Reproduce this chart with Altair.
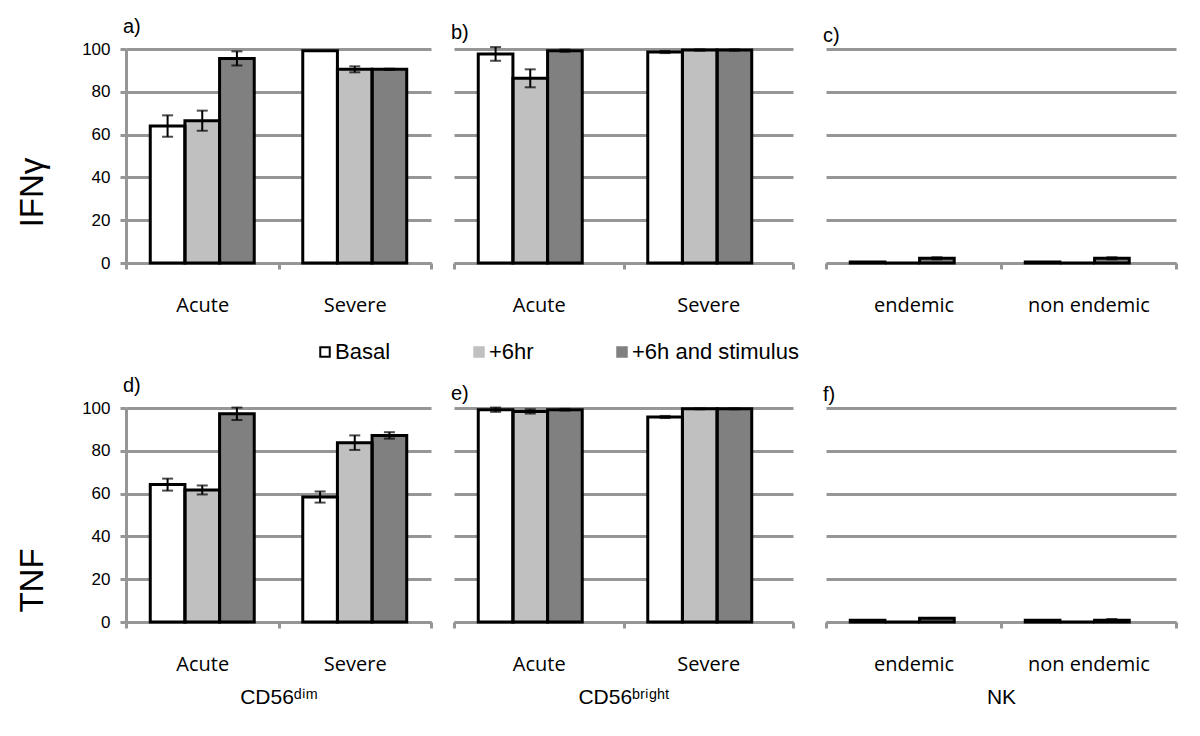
import altair as alt
import pandas as pd

series = ["Basal", "+6hr", "+6h and stimulus"]
fills = ["#ffffff", "#c0c0c0", "#808080"]
legend_strokes = ["#000000", "#c0c0c0", "#808080"]

cats_cd56 = ["Acute", "Severe"]
cats_nk = ["endemic", "non endemic"]

# values[group][series], errors[group][series]
a_vals = [[64.0, 66.5, 95.6], [99.2, 90.5, 90.5]]
a_err = [[5.0, 4.7, 3.3], [0.0, 1.4, 0.3]]
b_vals = [[97.7, 86.3, 99.2], [98.6, 99.5, 99.5]]
b_err = [[3.2, 4.2, 0.5], [0.5, 0.3, 0.3]]
c_vals = [[0.5, 0.0, 2.2], [0.5, 0.0, 2.2]]
c_err = [[0.0, 0.0, 0.5], [0.0, 0.0, 0.5]]
d_vals = [[64.2, 61.7, 97.3], [58.4, 83.8, 87.2]]
d_err = [[2.8, 2.1, 2.9], [2.6, 3.4, 1.5]]
e_vals = [[99.2, 98.4, 99.2], [95.8, 99.6, 99.6]]
e_err = [[1.0, 1.0, 0.4], [0.5, 0.2, 0.2]]
f_vals = [[0.8, 0.0, 1.8], [0.8, 0.0, 0.8]]
f_err = [[0.0, 0.0, 0.0], [0.0, 0.0, 0.6]]

y_ticks = [0, 20, 40, 60, 80, 100]
GRID = "#969696"
H = 214

legend = alt.Legend(
    title=None, orient="none", legendX=188, legendY=292, direction="horizontal",
    columns=3, symbolType="square", symbolSize=90, symbolStrokeWidth=2,
    labelFont="Liberation Sans", labelFontSize=22, labelColor="black",
    labelLimit=400, columnPadding=77, labelOffset={"expr": "-1"}, padding=0,
)
fill_scale = alt.Scale(domain=series, range=fills)
stroke_scale = alt.Scale(domain=series, range=legend_strokes)


def panel(label, cats, vals, errs, width, ytitle=None, title_y=None, xtitle=None):
    rows = []
    for gi, g in enumerate(cats):
        for si, s in enumerate(series):
            v = vals[gi][si]
            e = errs[gi][si]
            rows.append(dict(group=g, series=s, value=v, lo=v - e, hi=v + e, err=e))
    df = pd.DataFrame(rows)

    if ytitle is not None:
        yaxis = alt.Axis(
            values=y_ticks, grid=True, domain=True, ticks=True, tickSize=6,
            labelPadding=10, labelFontSize=17, labelFont="Liberation Sans",
            labelColor="black", title=ytitle, titleFontSize=33,
            titleFont="Liberation Sans", titleFontWeight="normal", titleColor="black",
            titleX=-94, titleY=title_y, titleBaseline="middle",
        )
    else:
        yaxis = alt.Axis(values=y_ticks, grid=True, domain=False, ticks=False,
                         labels=False, title=None)

    xaxis_kwargs = dict(
        tickBand="extent", tickSize=6, labelPadding=26, labelAngle=0,
        labelFontSize=20, labelFont="Open Sans", labelColor="black",
        domain=True, grid=False,
    )
    if xtitle is not None:
        xaxis = alt.Axis(title=xtitle, titleFontSize=21, titleFont="Liberation Sans",
                         titleFontWeight="normal", titleColor="black", titlePadding=12,
                         **xaxis_kwargs)
    else:
        xaxis = alt.Axis(title=None, **xaxis_kwargs)

    x = alt.X("group:N", scale=alt.Scale(domain=cats, paddingInner=0, paddingOuter=0),
              axis=xaxis)
    xo = alt.XOffset("series:N", scale=alt.Scale(domain=series, paddingOuter=0.7,
                                                 paddingInner=0))
    y = alt.Y("value:Q", scale=alt.Scale(domain=[0, 100], nice=False), axis=yaxis)

    base = alt.Chart(df)
    legend_bars = base.mark_bar(strokeWidth=1).encode(
        x=x, xOffset=xo, y=y,
        fill=alt.Fill("series:N", scale=fill_scale, legend=legend),
        stroke=alt.Stroke("series:N", scale=stroke_scale, legend=legend),
    )
    outline = base.mark_bar(filled=False, stroke="black", strokeWidth=3).encode(
        x=x, xOffset=xo, y=y,
    )
    eb = base.transform_filter("datum.err > 0")
    rule = eb.mark_rule(color="black", strokeWidth=2).encode(
        x=x, xOffset=xo, y=alt.Y("lo:Q"), y2="hi:Q"
    )
    cap_lo = eb.mark_tick(color="black", thickness=2, size=11).encode(
        x=x, xOffset=xo, y=alt.Y("lo:Q")
    )
    cap_hi = eb.mark_tick(color="black", thickness=2, size=11).encode(
        x=x, xOffset=xo, y=alt.Y("hi:Q")
    )
    return alt.layer(legend_bars, outline, rule, cap_lo, cap_hi).properties(
        width=width, height=H,
        title=alt.TitleParams(text=label, anchor="start", frame="group", fontSize=20,
                              font="Liberation Sans", fontWeight="normal",
                              color="black", offset=3, dx=-3),
    )


pa = panel("a)", cats_cd56, a_vals, a_err, 305, ytitle="IFNγ", title_y=143)
pb = panel("b)", cats_cd56, b_vals, b_err, 339)
pc = panel("c)", cats_nk, c_vals, c_err, 350)
pd_ = panel("d)", cats_cd56, d_vals, d_err, 305, ytitle="TNF", title_y=172,
            xtitle="CD56ᵈⁱᵐ")
pe = panel("e)", cats_cd56, e_vals, e_err, 339, xtitle="CD56ᵇʳⁱᵍʰᵗ")
pf = panel("f)", cats_nk, f_vals, f_err, 350, xtitle="NK")

row1 = alt.hconcat(pa, alt.hconcat(pb, pc, spacing=28), spacing=18)
row2 = alt.hconcat(pd_, alt.hconcat(pe, pf, spacing=28), spacing=18)

chart = alt.vconcat(row1, row2, spacing=61).properties(
    padding={"left": 7, "top": 9, "right": 5, "bottom": 5}
).configure_view(stroke=None).configure_axis(
    gridColor=GRID, gridWidth=3, domainColor=GRID, domainWidth=3,
    tickColor=GRID, tickWidth=3,
).configure_concat(spacing=0)

chart.save("out.html", embed_options={"renderer": "svg", "actions": False})
